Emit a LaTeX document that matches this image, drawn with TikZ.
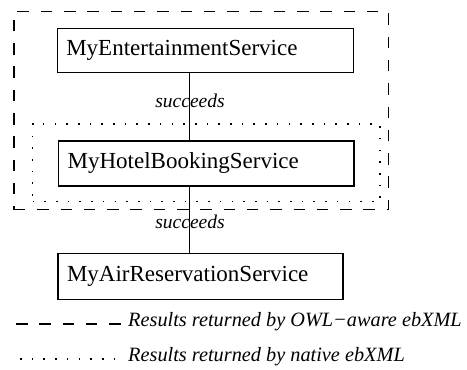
\documentclass[tikz,border=0pt]{standalone}
\usepackage{fontspec}
\setmainfont{Liberation Serif}
\begin{document}
\begin{tikzpicture}[x=1pt,y=-1pt,
  svc/.style={draw,line width=1.1pt,inner xsep=9pt,minimum height=44pt,
    align=left,font=\fontsize{23}{26}\selectfont},
  rel/.style={font=\fontsize{19.5}{22}\selectfont\itshape},
  legend/.style={anchor=west,inner xsep=0pt,font=\fontsize{20.3}{24}\selectfont\itshape},
  wide/.style={dash pattern=on 11.5pt off 11.8pt,line width=1.1pt},
  fine/.style={dash pattern=on 1.6pt off 10.1pt,line width=1.5pt}]
\useasboundingbox (0,0) rectangle (467,370);

% services
\node[svc,text width=278pt] (e1) at (205.3,50.7) {MyEntertainmentService};
\node[svc,text width=277.3pt,minimum height=45pt] (h) at (206.3,163.5) {MyHotelBookingService};
\node[svc,text width=267pt,minimum height=46pt] (a) at (200.5,276.2) {MyAirReservationService};

% succession links
\coordinate (c1) at (189.5,0);
\draw[line width=1.1pt] (e1.south -| c1) -- (h.north -| c1);
\draw[line width=1.1pt] (h.south -| c1) -- (a.north -| c1);
\node[rel] (s1) at (190,101) {succeeds};
\node[rel] (s2) at (190,222) {succeeds};

% result groups
\node[draw,wide,minimum width=374.5pt,minimum height=198pt] (owl) at (201.2,110.5) {};
\node[draw,fine,minimum width=347.3pt,minimum height=77.7pt] (nat) at (206.3,162.8) {};

% legend
\coordinate (l1a) at (16,324);
\coordinate (l1b) at (122,324);
\coordinate (l2a) at (20,359);
\coordinate (l2b) at (118,359);
\draw[wide] (l1a) -- (l1b);
\draw[fine] (l2a) -- (l2b);
\node[legend] (t1) at (128,322) {Results returned by OWL−aware ebXML};
\node[legend] (t2) at (128,357) {Results returned by native ebXML};
\end{tikzpicture}
\end{document}
